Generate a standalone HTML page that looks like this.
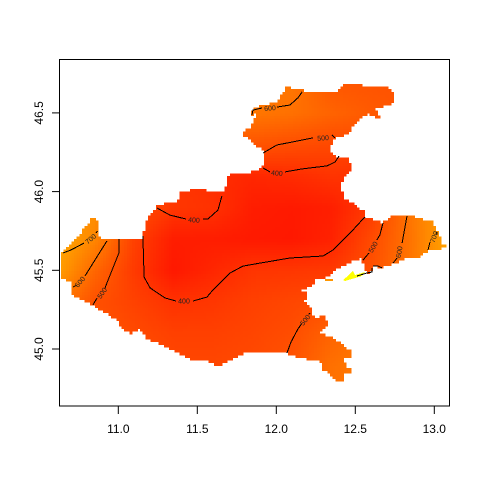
<!DOCTYPE html>
<html lang="en">
<head>
<meta charset="utf-8">
<title>Elevation contour map</title>
<style>
html,body{margin:0;padding:0;background:#fff;width:480px;height:480px;overflow:hidden}
svg{display:block;font-family:"Liberation Sans",Arial,sans-serif}
</style>
</head>
<body>
<svg id="chart" width="480" height="480" viewBox="0 0 480 480" xmlns="http://www.w3.org/2000/svg">
<rect width="480" height="480" fill="#fff"/>
<g id="field" shape-rendering="crispEdges"></g>
<g id="islands" shape-rendering="crispEdges"></g>
<g id="contours" fill="none" stroke="#000" stroke-width="1" shape-rendering="crispEdges"></g>
<g id="contour-labels" font-size="7" fill="#222" text-anchor="middle"></g>
<rect x="59.5" y="59.5" width="390" height="346.5" fill="none" stroke="#000" stroke-width="1"/>
<g id="x-axis" font-size="12" fill="#000" text-anchor="middle"></g>
<g id="y-axis" font-size="12" fill="#000" text-anchor="middle"></g>
</svg>
<script>
const xTicks = ["11.0", "11.5", "12.0", "12.5", "13.0"];
const yTicks = ["45.0", "45.5", "46.0", "46.5"];

const gridLons = [10.6, 10.85, 11.1, 11.35, 11.6, 11.85, 12.1, 12.35, 12.6, 12.85, 13.1];
const gridLats = [46.7, 46.5, 46.3, 46.1, 45.9, 45.7, 45.5, 45.3, 45.1, 44.9, 44.7];
const gridValues = [
  [640, 640, 640, 640, 640, 630, 620, 520, 510, 500, 500],
  [620, 620, 620, 620, 620, 620, 600, 560, 530, 510, 500],
  [560, 560, 540, 520, 520, 510, 490, 475, 480, 500, 520],
  [620, 620, 500, 420, 390, 370, 385, 410, 400, 500, 620],
  [700, 700, 500, 420, 405, 340, 330, 345, 430, 620, 760],
  [790, 670, 450, 340, 340, 330, 325, 355, 480, 610, 770],
  [760, 570, 430, 325, 370, 415, 420, 430, 500, 620, 760],
  [640, 500, 455, 405, 420, 450, 470, 490, 560, 650, 760],
  [600, 520, 480, 450, 450, 465, 490, 560, 620, 660, 660],
  [600, 540, 510, 470, 470, 480, 510, 600, 640, 680, 680],
  [600, 540, 510, 470, 470, 480, 510, 600, 640, 680, 680]
];

const regionOutline = [
  [12.068,46.665],[12.150,46.646],[12.226,46.626],[12.245,46.639],[12.296,46.633],[12.372,46.633],[12.422,46.677],
  [12.511,46.684],[12.574,46.665],[12.701,46.665],[12.739,46.626],[12.739,46.563],[12.625,46.525],[12.656,46.474],
  [12.631,46.474],[12.580,46.499],[12.511,46.455],[12.454,46.372],[12.372,46.341],[12.327,46.264],[12.372,46.220],
  [12.447,46.220],[12.485,46.150],[12.435,46.105],[12.403,46.042],[12.428,45.947],[12.454,45.947],[12.555,45.870],
  [12.561,45.839],[12.675,45.801],[12.720,45.839],[12.783,45.851],[12.834,45.851],[12.992,45.807],[13.017,45.743],
  [13.049,45.673],[13.080,45.673],[13.080,45.648],[12.973,45.629],[12.891,45.584],[12.827,45.578],[12.739,45.546],
  [12.656,45.515],[12.606,45.534],[12.593,45.483],[12.561,45.502],[12.549,45.553],[12.542,45.578],[12.447,45.546],
  [12.390,45.515],[12.321,45.457],[12.245,45.451],[12.232,45.407],[12.150,45.375],[12.182,45.362],[12.182,45.311],
  [12.163,45.311],[12.213,45.267],[12.226,45.216],[12.258,45.197],[12.289,45.229],[12.327,45.165],[12.264,45.102],[12.359,45.070],
  [12.479,44.981],[12.460,44.943],[12.422,44.943],[12.447,44.879],[12.479,44.879],[12.479,44.854],[12.435,44.854],
  [12.416,44.835],[12.428,44.803],[12.384,44.803],[12.359,44.822],[12.289,44.879],[12.277,44.930],[12.150,44.943],
  [12.068,44.975],[11.941,44.987],[11.789,44.975],[11.739,44.943],[11.625,44.892],[11.561,44.930],[11.454,44.936],
  [11.283,45.025],[11.182,45.064],[11.137,45.127],[11.074,45.102],[11.030,45.121],[10.992,45.184],[10.840,45.280],
  [10.707,45.343],[10.707,45.426],[10.631,45.451],[10.631,45.597],[10.713,45.680],[10.802,45.788],[10.840,45.839],
  [10.878,45.807],[10.865,45.712],[10.928,45.693],[11.074,45.705],[11.150,45.705],[11.182,45.820],[11.251,45.921],
  [11.378,45.934],[11.391,45.991],[11.466,46.010],[11.517,46.023],[11.593,45.997],[11.675,45.991],[11.688,46.093],
  [11.726,46.118],[11.853,46.125],[11.909,46.156],[11.928,46.201],[11.928,46.252],[11.815,46.341],[11.783,46.372],
  [11.834,46.410],[11.884,46.499],[11.846,46.487],[11.827,46.506],[11.897,46.544],[12.004,46.569],[12.042,46.633]
];

const yellowIsland = [[12.422,45.438],[12.466,45.476],[12.485,45.496],[12.498,45.470],[12.561,45.489],[12.542,45.464],[12.435,45.432]];
const orangeIsland = [[12.308,45.445],[12.359,45.445],[12.359,45.432],[12.308,45.432]];
const yellowIslandValue = 1050;
const orangeIslandValue = 720;

const contourSegments = [
  [[10.650,45.610],[10.700,45.629],[10.783,45.673]],
  [[10.859,45.737],[10.868,45.750]],
  [[10.928,45.686],[10.884,45.616],[10.789,45.464]],
  [[10.735,45.405],[10.713,45.394]],
  [[11.004,45.699],[11.004,45.610],[10.928,45.419],[10.915,45.385]],
  [[10.865,45.324],[10.840,45.280]],
  [[11.156,45.718],[11.163,45.457],[11.201,45.388],[11.296,45.324],[11.365,45.305]],
  [[11.473,45.305],[11.561,45.330],[11.599,45.375],[11.707,45.483],[11.789,45.527],[11.897,45.546],[12.087,45.578],[12.296,45.591],[12.359,45.629],[12.485,45.756],[12.561,45.839]],
  [[11.245,45.896],[11.327,45.851],[11.428,45.826]],
  [[11.536,45.826],[11.568,45.826],[11.631,45.883],[11.656,45.972]],
  [[11.916,46.150],[11.960,46.125]],
  [[12.055,46.125],[12.163,46.144],[12.321,46.163],[12.372,46.188],[12.397,46.226]],
  [[11.916,46.245],[12.004,46.296],[12.232,46.341]],
  [[12.353,46.360],[12.372,46.341]],
  [[11.846,46.487],[11.852,46.518],[11.909,46.531]],
  [[12.004,46.537],[12.087,46.550],[12.137,46.595],[12.163,46.633]],
  [[12.675,45.801],[12.656,45.724],[12.637,45.693]],
  [[12.587,45.610],[12.549,45.565]],
  [[12.827,45.845],[12.796,45.673]],
  [[12.764,45.578],[12.739,45.546]],
  [[13.017,45.743],[13.010,45.730]],
  [[12.973,45.680],[12.960,45.629]],
  [[12.213,45.229],[12.205,45.220]],
  [[12.160,45.160],[12.137,45.127],[12.093,45.044],[12.068,44.975]],
  [[12.511,45.464],[12.574,45.483],[12.606,45.489],[12.606,45.515]],
  [[12.612,45.527],[12.644,45.527],[12.669,45.515]]
];

const labelText = ["700", "600", "500", "400", "400", "400", "500", "600", "500", "600", "700", "500"];
const labelLon = [10.825, 10.757, 10.897, 11.416, 11.479, 12.004, 12.296, 11.960, 12.612, 12.777, 12.998, 12.182];
const labelLat = [45.700, 45.426, 45.356, 45.305, 45.820, 46.118, 46.341, 46.531, 45.648, 45.616, 45.712, 45.184];
const labelAngle = [-40, -50, -55, 0, 4, 5, -3, -5, -60, -80, -70, -50];

const NS = "http://www.w3.org/2000/svg";
function x(lon) { return 118.3 + (lon - 11) * 158; }
function y(lat) { return 270.3 - (lat - 45.5) * 157.4; }
function colorOf(v) {
  const g = Math.max(0, Math.min(255, Math.round(0.32 * (v - 250))));
  return "rgb(255," + g + ",0)";
}
function pathOf(points) {
  return points.map(function (p, i) { return (i ? "L" : "M") + x(p[0]).toFixed(1) + " " + y(p[1]).toFixed(1); }).join("");
}
function valueAt(lon, lat) {
  let i = 0, j = 0;
  while (i < gridLons.length - 2 && lon > gridLons[i + 1]) i++;
  while (j < gridLats.length - 2 && lat < gridLats[j + 1]) j++;
  const u = Math.max(0, Math.min(1, (lon - gridLons[i]) / (gridLons[i + 1] - gridLons[i])));
  const w = Math.max(0, Math.min(1, (lat - gridLats[j]) / (gridLats[j + 1] - gridLats[j])));
  const top = gridValues[j][i] * (1 - u) + gridValues[j][i + 1] * u;
  const bottom = gridValues[j + 1][i] * (1 - u) + gridValues[j + 1][i + 1] * u;
  return top * (1 - w) + bottom * w;
}
function insideRegion(lon, lat) {
  let inside = false;
  for (let a = 0, b = regionOutline.length - 1; a < regionOutline.length; b = a++) {
    const pa = regionOutline[a], pb = regionOutline[b];
    if ((pa[1] > lat) !== (pb[1] > lat) &&
        lon < (pb[0] - pa[0]) * (lat - pa[1]) / (pb[1] - pa[1]) + pa[0]) inside = !inside;
  }
  return inside;
}

const field = document.getElementById("field");
const lonStep = 0.0167, latStep = 0.0167;
for (let lon = 10.62; lon < 13.1; lon += lonStep) {
  for (let lat = 44.78; lat < 46.7; lat += latStep) {
    const midLon = lon + lonStep / 2, midLat = lat + latStep / 2;
    if (!insideRegion(midLon, midLat)) continue;
    const cell = document.createElementNS(NS, "rect");
    
    
    cell.setAttribute("x", x(lon).toFixed(1));
    cell.setAttribute("y", y(lat + latStep).toFixed(1));
    cell.setAttribute("width", (x(lon + lonStep) - x(lon) + 0.6).toFixed(1));
    cell.setAttribute("height", (y(lat) - y(lat + latStep) + 0.6).toFixed(1));
    cell.setAttribute("fill", colorOf(valueAt(midLon, midLat)));
    field.appendChild(cell);
  }
}

const islands = document.getElementById("islands");
const yellowShape = document.createElementNS(NS, "path");


yellowShape.setAttribute("d", pathOf(yellowIsland) + "Z");
yellowShape.setAttribute("fill", colorOf(yellowIslandValue));
islands.appendChild(yellowShape);
const orangeShape = document.createElementNS(NS, "path");


orangeShape.setAttribute("d", pathOf(orangeIsland) + "Z");
orangeShape.setAttribute("fill", colorOf(orangeIslandValue));
islands.appendChild(orangeShape);

const contours = document.getElementById("contours");
contourSegments.forEach(function (segment) {
  const line = document.createElementNS(NS, "path");
  
  
  line.setAttribute("d", pathOf(segment));
  contours.appendChild(line);
});

const labels = document.getElementById("contour-labels");
labelText.forEach(function (text, i) {
  const label = document.createElementNS(NS, "text");
  
  
  const px = x(labelLon[i]), py = y(labelLat[i]);
  label.setAttribute("transform", "translate(" + px.toFixed(1) + " " + py.toFixed(1) + ") rotate(" + labelAngle[i] + ")");
  label.setAttribute("y", "2.5");
  label.textContent = text;
  labels.appendChild(label);
});

const xAxis = document.getElementById("x-axis");
xTicks.forEach(function (t) {
  const px = x(parseFloat(t));
  const tick = document.createElementNS(NS, "line");
  
  
  tick.setAttribute("x1", px);
  tick.setAttribute("x2", px);
  tick.setAttribute("y1", 406);
  tick.setAttribute("y2", 414);
  tick.setAttribute("stroke", "#000");
  xAxis.appendChild(tick);
  const label = document.createElementNS(NS, "text");
  
  
  label.setAttribute("x", px);
  label.setAttribute("y", 433);
  label.textContent = t;
  xAxis.appendChild(label);
});

const yAxis = document.getElementById("y-axis");
yTicks.forEach(function (t) {
  const py = y(parseFloat(t));
  const tick = document.createElementNS(NS, "line");
  
  
  tick.setAttribute("x1", 52);
  tick.setAttribute("x2", 59.5);
  tick.setAttribute("y1", py);
  tick.setAttribute("y2", py);
  tick.setAttribute("stroke", "#000");
  yAxis.appendChild(tick);
  const label = document.createElementNS(NS, "text");
  
  
  label.setAttribute("transform", "translate(43 " + py.toFixed(1) + ") rotate(-90)");
  label.textContent = t;
  yAxis.appendChild(label);
});
</script>
</body>
</html>
